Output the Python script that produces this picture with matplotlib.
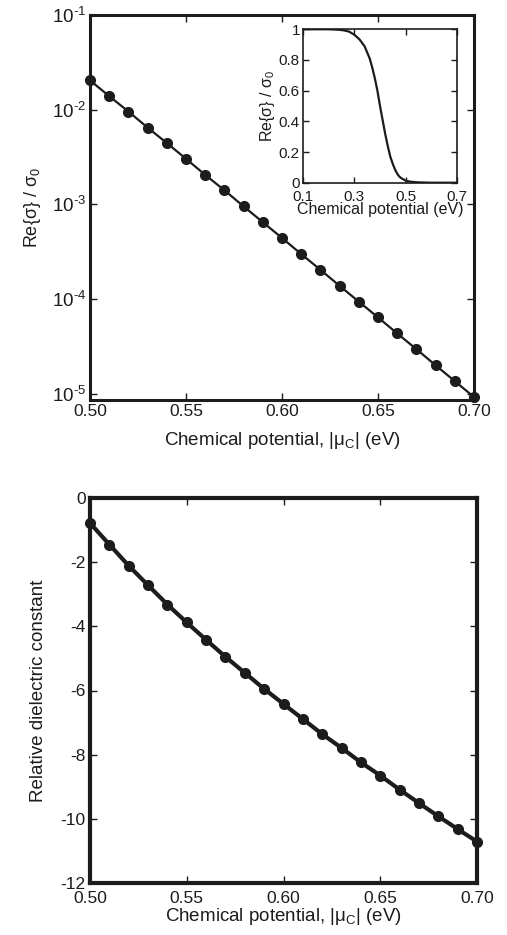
import numpy as np
import matplotlib
matplotlib.use('Agg')
import matplotlib.pyplot as plt
from matplotlib.ticker import FixedLocator, FuncFormatter

# Datos
mu = [0.50, 0.51, 0.52, 0.53, 0.54, 0.55, 0.56, 0.57, 0.58, 0.59, 0.60,
      0.61, 0.62, 0.63, 0.64, 0.65, 0.66, 0.67, 0.68, 0.69, 0.70]
re_sigma = [2.04e-2, 1.39e-2, 9.57e-3, 6.47e-3, 4.45e-3, 3.03e-3, 2.05e-3,
            1.41e-3, 9.53e-4, 6.49e-4, 4.42e-4, 2.99e-4, 2.04e-4, 1.38e-4,
            9.40e-5, 6.41e-5, 4.34e-5, 2.96e-5, 2.00e-5, 1.36e-5, 9.23e-6]
eps_rel = [-0.78, -1.45, -2.11, -2.72, -3.32, -3.88, -4.42, -4.95, -5.45,
           -5.95, -6.42, -6.89, -7.36, -7.79, -8.24, -8.65, -9.09, -9.51,
           -9.92, -10.32, -10.71]

# Inset: Re{sigma}/sigma0 vs potencial quimico
mu_inset = [0.10, 0.20, 0.24, 0.26, 0.28, 0.30, 0.32, 0.34, 0.36, 0.37, 0.38,
            0.39, 0.40, 0.41, 0.42, 0.43, 0.44, 0.45, 0.46, 0.47, 0.48, 0.50,
            0.52, 0.55, 0.60, 0.70]
sigma_inset = [1.0, 1.0, 0.997, 0.993, 0.985, 0.965, 0.935, 0.89, 0.81, 0.75,
               0.68, 0.60, 0.50, 0.41, 0.32, 0.24, 0.17, 0.12, 0.08, 0.05,
               0.032, 0.013, 0.006, 0.002, 0.0, 0.0]

x_ticks = [0.50, 0.55, 0.60, 0.65, 0.70]
log_ticks = [1e-5, 1e-4, 1e-3, 1e-2, 1e-1]
eps_ticks = [0, -2, -4, -6, -8, -10, -12]
inset_xticks = [0.1, 0.3, 0.5, 0.7]
inset_yticks = [0, 0.2, 0.4, 0.6, 0.8, 1]

plt.rcParams['font.family'] = ['Liberation Sans', 'DejaVu Sans']
plt.rcParams['mathtext.fontset'] = 'custom'
plt.rcParams['mathtext.rm'] = 'Liberation Sans'
plt.rcParams['mathtext.it'] = 'Liberation Sans:italic'
plt.rcParams['mathtext.default'] = 'regular'
plt.rcParams['axes.unicode_minus'] = False

negro = '#1c1c1c'
W, H = 507, 935
fig = plt.figure(figsize=(W / 100, H / 100), dpi=100)


def caja(left, top, right, bottom):
    return [left / W, 1 - bottom / H, (right - left) / W, (bottom - top) / H]


def estilo(ax, lw_spine, fs):
    for s in ax.spines.values():
        s.set_linewidth(lw_spine)
        s.set_color(negro)
    ax.tick_params(direction='in', top=True, right=True, length=5, width=1,
                   labelsize=fs, colors=negro, pad=3)


def potencia(v, p):
    return r'$10^{\text{-}%d}$' % abs(round(np.log10(v)))


# Panel superior (escala log)
ax1 = fig.add_axes(caja(90, 15, 474, 400))
ax1.semilogy(mu, re_sigma, '-o', color=negro, lw=1.6, ms=7, clip_on=False)
ax1.set_xlim(0.50, 0.70)
ax1.set_ylim(8.6e-6, 1e-1)
ax1.xaxis.set_major_locator(FixedLocator(x_ticks))
ax1.xaxis.set_major_formatter(FuncFormatter(lambda v, p: f'{v:.2f}'))
ax1.yaxis.set_major_locator(FixedLocator(log_ticks))
ax1.yaxis.set_minor_locator(FixedLocator([]))
ax1.yaxis.set_major_formatter(FuncFormatter(potencia))
estilo(ax1, 2.2, 12.5)
ax1.tick_params(axis='y', labelsize=13.5)
ax1.set_xlabel('Chemical potential, |μ$_\\mathrm{C}$| (eV)', fontsize=13.5, color=negro, labelpad=8)
ax1.set_ylabel('Re{σ} / σ$_0$', fontsize=13, color=negro, labelpad=6)

# Inset
ax_in = fig.add_axes(caja(302.7, 29.3, 457.3, 182.7))
ax_in.plot(mu_inset, sigma_inset, '-', color=negro, lw=1.6)
ax_in.set_xlim(0.1, 0.7)
ax_in.set_ylim(0, 1)
ax_in.xaxis.set_major_locator(FixedLocator(inset_xticks))
ax_in.yaxis.set_major_locator(FixedLocator(inset_yticks))
ax_in.xaxis.set_major_formatter(FuncFormatter(lambda v, p: f'{v:g}'))
ax_in.yaxis.set_major_formatter(FuncFormatter(lambda v, p: f'{v:g}'))
estilo(ax_in, 1.2, 11)
ax_in.tick_params(length=4)
ax_in.tick_params(axis='y', pad=2)
ax_in.tick_params(axis='x', pad=5)
ax_in.set_xlabel('Chemical potential (eV)', fontsize=11.5, color=negro, labelpad=-1)
ax_in.set_ylabel('Re{σ} / σ$_0$', fontsize=11.5, color=negro, labelpad=1)

# Panel inferior (constante dielectrica)
ax2 = fig.add_axes(caja(90, 498, 477, 883))
ax2.plot(mu, eps_rel, '-o', color=negro, lw=3, ms=7, clip_on=False)
ax2.set_xlim(0.50, 0.70)
ax2.set_ylim(-12, 0)
ax2.xaxis.set_major_locator(FixedLocator(x_ticks))
ax2.xaxis.set_major_formatter(FuncFormatter(lambda v, p: f'{v:.2f}'))
ax2.yaxis.set_major_locator(FixedLocator(eps_ticks))
ax2.yaxis.set_major_formatter(FuncFormatter(lambda v, p: f'{v:g}'))
estilo(ax2, 3, 12.5)
ax2.tick_params(axis='x', pad=6)
ax2.set_xlabel('Chemical potential, |μ$_\\mathrm{C}$| (eV)', fontsize=13.5, color=negro, labelpad=0)
ax2.set_ylabel('Relative dielectric constant', fontsize=13.5, color=negro, labelpad=10)

fig.savefig('out.png', dpi=100)
